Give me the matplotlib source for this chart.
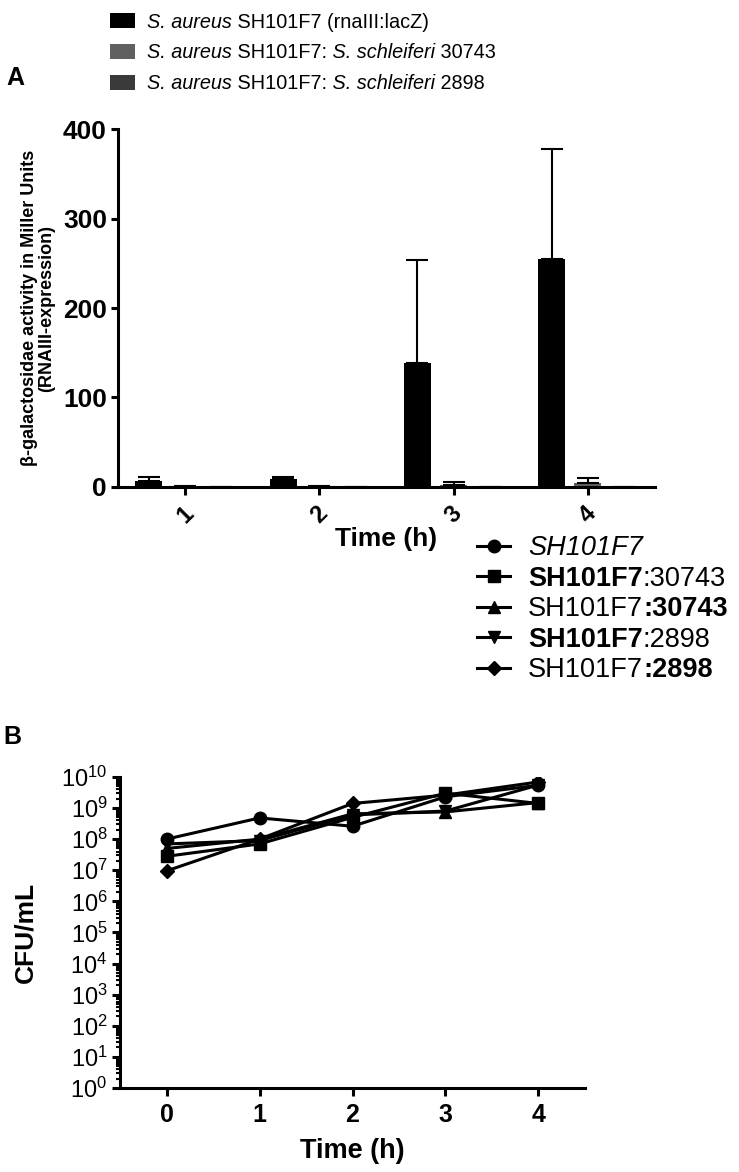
import matplotlib
matplotlib.use('Agg')
import matplotlib.pyplot as plt
from matplotlib import font_manager, ticker
from matplotlib.text import Annotation
import numpy as np

# panel A: beta-galactosidase activity (Miller units) per time point
hours_a = [1, 2, 3, 4]
miller_wt = [6.5, 8.5, 139, 255]
miller_wt_err = [4.5, 2.5, 115, 123]
miller_30743 = [0.5, 0.5, 2.0, 4.0]
miller_30743_err = [0.8, 0.8, 3.5, 6.0]
miller_2898 = [0, 0, 0, 0]
miller_2898_err = [0, 0, 0, 0]

# panel B: growth, CFU/mL
hours_b = [0, 1, 2, 3, 4]
cfu_sh101f7 = [1.0e8, 4.8e8, 2.6e8, 2.3e9, 5.4e9]
cfu_sq_30743 = [2.8e7, 7.0e7, 5.0e8, 3.0e9, 1.4e9]
cfu_tri_30743 = [5.0e7, 1.0e8, 6.5e8, 7.5e8, 1.5e9]
cfu_sq_2898 = [7.0e7, 9.0e7, 6.0e8, 8.0e8, 5.5e9]
cfu_tri_2898 = [9.5e6, 1.0e8, 1.4e9, 2.6e9, 6.9e9]

fonts = {f.name for f in font_manager.fontManager.ttflist}
narrow = 'Liberation Sans Narrow' if 'Liberation Sans Narrow' in fonts else 'Liberation Sans'

plt.rcParams['font.family'] = ['Liberation Sans', 'DejaVu Sans']
plt.rcParams['mathtext.fontset'] = 'custom'
plt.rcParams['mathtext.rm'] = 'Liberation Sans'
plt.rcParams['mathtext.bf'] = 'Liberation Sans:bold'
plt.rcParams['mathtext.default'] = 'bf'


def chain(fig, start, parts, **common):
    # put pieces of text with their own style right after the previous one
    prev = start
    for s, style in parts:
        ann = Annotation(s, xy=(1, 0), xycoords=prev, va='bottom', ha='left',
                         zorder=6, **common, **style)
        fig.add_artist(ann)
        prev = ann


fig = plt.figure(figsize=(7.39, 11.72), dpi=100)
axA = fig.add_axes([0.1597, 0.5845, 0.7266, 0.3054])
axB = fig.add_axes([0.1624, 0.0717, 0.6292, 0.2654])

# ---- panel A
x = np.array(hours_a)
err_kw = dict(elinewidth=1.5, capsize=8, capthick=1.5, ecolor='black')
b1 = axA.bar(x - 0.27, miller_wt, 0.2, color='black',
             yerr=[np.zeros(4), miller_wt_err], error_kw=err_kw)
b2 = axA.bar(x, miller_30743, 0.2, color='#606060',
             yerr=[np.zeros(4), miller_30743_err], error_kw=err_kw)
b3 = axA.bar(x + 0.27, miller_2898, 0.2, color='#3a3a3a',
             yerr=[np.zeros(4), miller_2898_err], error_kw=err_kw)

axA.set_xlim(0.5, 4.5)
axA.set_ylim(0, 400)
axA.set_yticks([0, 100, 200, 300, 400], labels=['0', '100', '200', '300', '400'],
               fontsize=19, fontweight='bold', family=narrow)
axA.set_xticks(hours_a, labels=[str(h) for h in hours_a], rotation=45,
               fontsize=17, fontweight='bold', family=narrow)
for s in ['top', 'right']:
    axA.spines[s].set_visible(False)
for s in ['left', 'bottom']:
    axA.spines[s].set_linewidth(2.2)
axA.tick_params(axis='y', width=2.2, length=5, pad=3)
axA.tick_params(axis='x', width=2.2, length=6, pad=5)
axA.set_ylabel('β-galactosidae activity in Miller Units\n(RNAIII-expression)',
               fontsize=13, fontweight='bold', linespacing=1.0)
axA.yaxis.set_label_coords(-0.118, 0.5)
axA.set_xlabel('Time (h)', fontsize=19, fontweight='bold', family=narrow)
axA.xaxis.set_label_coords(0.5, -0.112)

legA = fig.legend(handles=[b1, b2, b3], labels=['S. aureus'] * 3, loc='upper left',
                  bbox_to_anchor=(0.1489, 0.9893), frameon=False, borderpad=0,
                  borderaxespad=0, handlelength=1.25, handleheight=0.8,
                  handletextpad=0.6, labelspacing=0.6,
                  prop=dict(family=narrow, size=14.3, style='italic'))
it = dict(fontstyle='italic')
rm = dict(fontstyle='normal')
partsA = [[(' SH101F7 (rnaIII:lacZ)', rm)],
          [(' SH101F7:', rm), (' S. schleiferi', it), (' 30743', rm)],
          [(' SH101F7:', rm), (' S. schleiferi', it), (' 2898', rm)]]
for t, parts in zip(legA.get_texts(), partsA):
    chain(fig, t, parts, family=narrow, fontsize=14.3)

# ---- panel B
markers = ['o', 's', '^', 'v', 'D']
sizes = [9, 8.5, 9, 9, 7]
series = [cfu_sh101f7, cfu_sq_30743, cfu_tri_30743, cfu_sq_2898, cfu_tri_2898]
lines = []
for vals, m, ms in zip(series, markers, sizes):
    ln, = axB.plot(hours_b, vals, color='black', lw=2.2, marker=m, markersize=ms)
    lines.append(ln)

axB.set_yscale('log')
axB.set_ylim(1, 1e10)
axB.set_xlim(-0.5, 4.5)
axB.yaxis.set_major_locator(ticker.LogLocator(base=10, numticks=15))
axB.yaxis.set_minor_locator(ticker.LogLocator(base=10, subs=np.arange(2, 10), numticks=15))
axB.yaxis.set_minor_formatter(ticker.NullFormatter())
axB.set_xticks(hours_b, labels=[str(h) for h in hours_b], fontsize=18,
               fontweight='bold', family=narrow)
for s in ['top', 'right']:
    axB.spines[s].set_visible(False)
for s in ['left', 'bottom']:
    axB.spines[s].set_linewidth(2.2)
axB.tick_params(axis='y', which='major', width=2.2, length=6, pad=3, labelsize=17)
axB.tick_params(axis='y', which='minor', width=1.5, length=3)
axB.tick_params(axis='x', width=2.2, length=6, pad=5)
axB.set_ylabel('CFU/mL', fontsize=19, fontweight='bold', family=narrow)
axB.yaxis.set_label_coords(-0.178, 0.5)
axB.set_xlabel('Time (h)', fontsize=19.5, fontweight='bold', family=narrow)
axB.xaxis.set_label_coords(0.5, -0.16)

legB = fig.legend(handles=lines, labels=['SH101F7'] * 5, loc='upper left',
                  bbox_to_anchor=(0.6455, 0.5435), frameon=False, borderpad=0,
                  borderaxespad=0, handlelength=1.22, handletextpad=0.67,
                  labelspacing=0.17, prop=dict(family='Liberation Sans', size=19.5))
tb = legB.get_texts()
tb[0].set_fontstyle('italic')
tb[1].set_fontweight('bold')
tb[3].set_fontweight('bold')
bold = dict(fontweight='bold')
reg = dict(fontweight='normal')
partsB = [[], [(':30743', reg)], [(':30743', bold)], [(':2898', reg)], [(':2898', bold)]]
for t, parts in zip(tb, partsB):
    chain(fig, t, parts, family='Liberation Sans', fontsize=19.5)

fig.text(0.009, 1 - 78 / 1172, 'A', fontsize=18, fontweight='bold', family=narrow, va='center')
fig.text(0.004, 1 - 737 / 1172, 'B', fontsize=18, fontweight='bold', family=narrow, va='center')

fig.savefig('out.png', dpi=100, facecolor='white')
